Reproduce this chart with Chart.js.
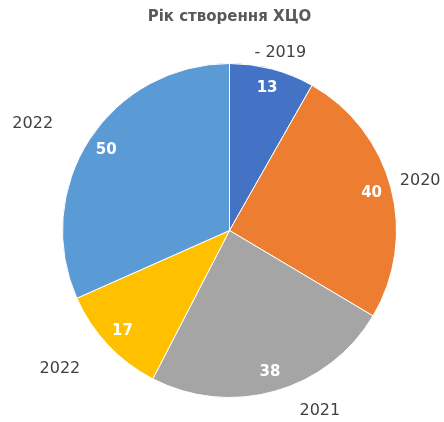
<!DOCTYPE html>
<html lang="uk">
<head>
  <meta charset="UTF-8">
  <title>Рік створення ХЦО</title>
  <script src="https://cdn.jsdelivr.net/npm/chart.js"></script>
  <style>
    html, body { margin: 0; padding: 0; background: #fff; }
    .wrap { width: 444px; height: 422px; position: relative; }
  </style>
</head>
<body>
<div class="wrap">
  <canvas id="pieChart"></canvas>
</div>

<script>
  // дані діаграми
  const categories = ['- 2019', '2020', '2021', '2022', '2022'];
  const values = [13, 40, 38, 17, 50];
  const sliceColors = ['#4472C4', '#ED7D31', '#A5A5A5', '#FFC000', '#5B9BD5'];

  // зсув підписів категорій (як у вихідному малюнку)
  const labelNudge = [[-2, 4], [-4, -2], [35, 0], [-23, 9], [-28, -4]];

  // плагін для підписів: значення всередині, категорії зовні
  const pieLabels = {
    id: 'pieLabels',
    afterDatasetsDraw(chart) {
      const ctx = chart.ctx;
      const meta = chart.getDatasetMeta(0);
      const data = chart.data.datasets[0].data;
      ctx.save();
      ctx.textAlign = 'center';
      ctx.textBaseline = 'middle';
      meta.data.forEach((arc, i) => {
        const p = arc.getProps(['x', 'y', 'startAngle', 'endAngle', 'outerRadius'], true);
        const mid = (p.startAngle + p.endAngle) / 2;
        const cos = Math.cos(mid), sin = Math.sin(mid);

        // значення
        const rIn = p.outerRadius * 0.88;
        ctx.font = 'bold 15px "DejaVu Sans"';
        ctx.fillStyle = '#ffffff';
        ctx.fillText(String(data[i]), p.x + cos * rIn, p.y + sin * rIn);

        // категорія
        ctx.font = '16px "DejaVu Sans"';
        ctx.fillStyle = '#404040';
        const text = chart.data.labels[i];
        const w = ctx.measureText(text).width;
        const rOut = p.outerRadius + 14;
        const tx = p.x + cos * rOut + cos * w / 2 + labelNudge[i][0];
        const ty = p.y + sin * rOut + sin * 7 + labelNudge[i][1];
        ctx.fillText(text, tx, ty);
      });
      ctx.restore();
    }
  };

  new Chart(document.getElementById('pieChart'), {
    type: 'pie',
    data: {
      labels: categories,
      datasets: [{
        data: values,
        backgroundColor: sliceColors,
        borderColor: '#ffffff',
        borderWidth: 1
      }]
    },
    options: {
      responsive: true,
      maintainAspectRatio: false,
      animation: false,
      events: [],
      layout: {
        padding: { left: 62, right: 47, top: 0, bottom: 24 }
      },
      plugins: {
        legend: { display: false },
        tooltip: { enabled: false },
        title: {
          display: true,
          text: 'Рік створення ХЦО',
          color: '#595959',
          font: { family: '"DejaVu Sans"', size: 15, weight: 'bold', lineHeight: 1.2 },
          padding: { top: 8, bottom: 37 }
        }
      }
    },
    plugins: [pieLabels]
  });
</script>
</body>
</html>
